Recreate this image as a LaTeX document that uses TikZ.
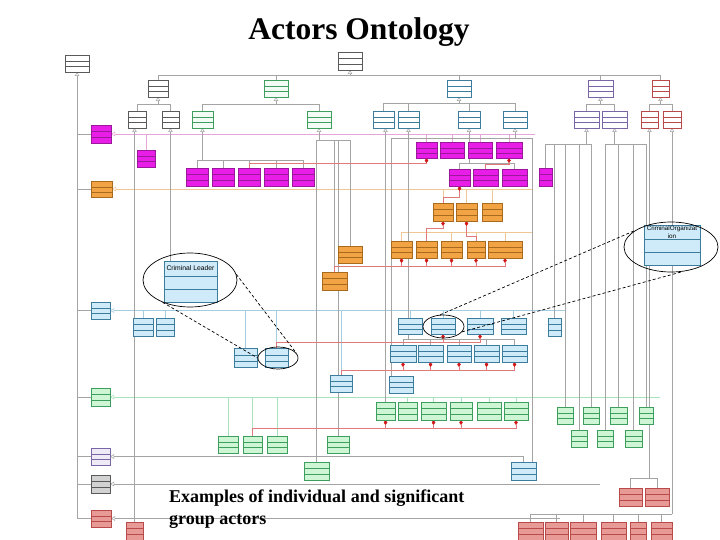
\documentclass[tikz,border=0pt]{standalone}
\usepackage{fontspec}
\setmainfont{Liberation Serif}
\setsansfont{Liberation Sans}
\usetikzlibrary{arrows.meta,calc,shapes.geometric}
\pgfdeclarelayer{bg}
\pgfsetlayers{bg,main}
\definecolor{magF}{HTML}{E81EE8}
\definecolor{magD}{HTML}{9A189A}
\definecolor{orgF}{HTML}{F2A444}
\definecolor{orgD}{HTML}{A86A1E}
\definecolor{bluF}{HTML}{CFEAF8}
\definecolor{bluD}{HTML}{3C7C9C}
\definecolor{grnF}{HTML}{CFF6D4}
\definecolor{grnW}{HTML}{F2FCF4}
\definecolor{grnD}{HTML}{3E9E5E}
\definecolor{purD}{HTML}{7A66A6}
\definecolor{lavF}{HTML}{EEEAF6}
\definecolor{gryF}{HTML}{D2D2D2}
\definecolor{boxG}{HTML}{5A5A5A}
\definecolor{redF}{HTML}{E89A96}
\definecolor{redD}{HTML}{B84A4A}
\definecolor{lnG}{HTML}{A4A4A4}
\definecolor{lnP}{HTML}{E6A6DA}
\definecolor{lnO}{HTML}{F0C694}
\definecolor{lnB}{HTML}{A6CCE2}
\definecolor{lnN}{HTML}{A8E2BC}
\definecolor{redL}{HTML}{E07A7A}
\definecolor{redA}{HTML}{D01818}
\newcommand{\cls}[6]{%
  \node[#1, anchor=north west, minimum width={(#5)-(#3)}, minimum height={(#6)-(#4)}] (#2) at (#3,#4) {};
  \draw[#1,fill=none] ($(#2.north west)!0.37!(#2.south west)$) -- ($(#2.north east)!0.37!(#2.south east)$);
  \draw[#1,fill=none] ($(#2.north west)!0.69!(#2.south west)$) -- ($(#2.north east)!0.69!(#2.south east)$);
}
\tikzset{
  box/.style={rectangle, inner sep=0pt, outer sep=0pt, line width=0.6pt},
  gw/.style={box, draw=boxG, fill=white},
  gnw/.style={box, draw=grnD, fill=grnW},
  bw/.style={box, draw=bluD, fill=white},
  pw/.style={box, draw=purD, fill=white},
  rw/.style={box, draw=redD, fill=white},
  mg/.style={box, draw=magD, fill=magF},
  og/.style={box, draw=orgD, fill=orgF},
  bl/.style={box, draw=bluD, fill=bluF},
  gn/.style={box, draw=grnD, fill=grnF},
  lv/.style={box, draw=purD, fill=lavF},
  gy/.style={box, draw=boxG, fill=gryF},
  rf/.style={box, draw=redD, fill=redF},
  gl/.style={draw=lnG, line width=0.5pt},
  gen/.style={gl, -{Triangle[open, length=4pt, width=4.5pt]}},
  comp/.style={draw=redL, line width=0.5pt, {Diamond[color=redA, fill=redA, length=5pt, width=3.5pt]}-},
  hl/.style={draw=black, line width=0.7pt},
  dsh/.style={draw=black, line width=0.7pt, dash pattern=on 3pt off 2.2pt},
  boxtext/.style={font=\sffamily\fontsize{6.8}{8}\selectfont, inner sep=0pt, align=center}
}
\begin{document}
\begin{tikzpicture}[x=1pt,y=-1pt]
\useasboundingbox (0,0) rectangle (720,540);

% ---------- classes ----------
\cls{gw}{per}{65}{55}{89}{72}
\cls{gw}{act}{338}{52}{362}{70}
\cls{gw}{ae}{148}{80}{168}{97}
\cls{gw}{g1}{128}{111}{146}{128}
\cls{gw}{g2}{162}{111}{179}{128}
\cls{gnw}{gr0}{264}{80}{288}{97}
\cls{gnw}{gr1}{192}{111}{213}{128}
\cls{gnw}{gr2}{307}{111}{331}{128}
\cls{bw}{bo0}{447}{80}{471}{97}
\foreach \n/\a/\b in {1/373/394,2/398/419,3/458/480,4/503/527}{\cls{bw}{bo\n}{\a}{111}{\b}{128}}
\cls{pw}{pu0}{588}{80}{613}{97}
\cls{pw}{pu1}{574}{111}{599}{128}
\cls{pw}{pu2}{602}{111}{627}{128}
\cls{rw}{rd0}{652}{80}{669}{97}
\cls{rw}{rd1}{641}{111}{658}{128}
\cls{rw}{rd2}{663}{111}{681}{128}
% magenta
\cls{mg}{lm}{91}{125}{111}{143}
\cls{mg}{ms}{137}{150}{155}{167}
\foreach \n/\a/\b in {1/186/208,2/212/234,3/238/260,4/264/288,5/292/314}{\cls{mg}{mA\n}{\a}{168}{\b}{186}}
\foreach \n/\a/\b in {1/416/437,2/440/464,3/468/492,4/496/522}{\cls{mg}{mB\n}{\a}{142}{\b}{158}}
\foreach \n/\a/\b in {1/449/470,2/473/498,3/502/527}{\cls{mg}{mC\n}{\a}{169}{\b}{186}}
\cls{mg}{mD}{539}{168}{552}{186}
% orange
\cls{og}{lo}{91}{181}{112}{197}
\foreach \n/\a/\b in {1/433/453,2/456/477,3/482/502}{\cls{og}{oA\n}{\a}{203}{\b}{221}}
\foreach \n/\a/\b in {1/391/412,2/416/437,3/441/462,4/467/485,5/488/522}{\cls{og}{oB\n}{\a}{241}{\b}{258}}
\cls{og}{oM}{338}{246}{362}{263}
\cls{og}{oE}{322}{272}{347}{290}
% blue
\cls{bl}{lb}{91}{302}{110}{319}
\cls{bl}{bL1}{133}{318}{153}{336}
\cls{bl}{bL2}{156}{318}{174}{336}
\foreach \n/\a/\b in {1/398/422,2/431/455,3/467/493,4/501/526}{\cls{bl}{bA\n}{\a}{318}{\b}{334}}
\cls{bl}{bS}{548}{318}{561}{336}
\cls{bl}{bM1}{234}{348}{257}{367}
\cls{bl}{bM2}{265}{348}{288}{367}
\foreach \n/\a/\b in {1/390/416,2/418/443,3/447/471,4/474/499,5/502/527}{\cls{bl}{bB\n}{\a}{345}{\b}{362}}
\cls{bl}{bE}{330}{375}{352}{392}
\cls{bl}{bF}{389}{376}{413}{393}
\cls{bl}{bG}{511}{462}{536}{480}
\cls{bl}{crl}{164}{261}{217}{302}
\cls{bl}{cro}{644}{225}{700}{265}
% green
\cls{gn}{lg}{91}{388}{110}{406}
\foreach \n/\a/\b in {1/218/238,2/243/262,3/267/287}{\cls{gn}{gL\n}{\a}{436}{\b}{453}}
\foreach \n/\a/\b in {1/376/395,2/398/417,3/421/446,4/450/472,5/477/501,6/504/528}{\cls{gn}{gA\n}{\a}{402}{\b}{420}}
\cls{gn}{gC}{327}{436}{349}{453}
\cls{gn}{gD}{304}{462}{329}{480}
\foreach \n/\a/\b in {1/557/573,2/583/599,3/610/627,4/639/653}{\cls{gn}{gR\n}{\a}{407}{\b}{424}}
\foreach \n/\a/\b in {1/571/587,2/597/613,3/625/642}{\cls{gn}{gS\n}{\a}{430}{\b}{447}}
% lavender, grey, red
\cls{lv}{ll}{91}{448}{110}{465}
\cls{gy}{lgy}{91}{475}{110}{493}
\cls{rf}{lr}{91}{510}{111}{527}
\cls{rf}{rB}{126}{522}{143}{540}
\cls{rf}{rE1}{619}{488}{642}{506}
\cls{rf}{rE2}{645}{488}{669}{506}
\foreach \n/\a/\b in {1/518/543,2/545/568,3/570/596,4/601/626,5/630/646,6/651/672}{\cls{rf}{rZ\n}{\a}{522}{\b}{540}}

\node[boxtext] (crlT) at ($(crl.north)+(0,7.5)$) {Criminal Leader};
\node[boxtext, font=\sffamily\fontsize{6.3}{7.6}\selectfont] (croT) at ($(cro.north)+(0,7.5)$) {CriminalOrganizat\\ion};

% ---------- connectors ----------
\begin{pgfonlayer}{bg}
\fill[white] (0,0) rectangle (720,540);
\coordinate (j0) at (350,75);
\draw[gen] (j0) -- (act.south);
\foreach \c in {ae,gr0,bo0,pu0,rd0}{\draw[gl] (\c.north) |- (j0);}
\coordinate (j1) at (158,104);
\draw[gen] (j1) -- (ae.south);
\foreach \c in {g1,g2}{\draw[gl] (\c.north) |- (j1);}
\coordinate (j2) at (276,104);
\draw[gen] (j2) -- (gr0.south);
\foreach \c in {gr1,gr2}{\draw[gl] (\c.north) |- (j2);}
\coordinate (j3) at (459,103);
\draw[gen] (j3) -- (bo0.south);
\foreach \c in {bo1,bo2,bo3,bo4}{\draw[gl] (\c.north) |- (j3);}
\coordinate (j4) at (600.5,104);
\draw[gen] (j4) -- (pu0.south);
\foreach \c in {pu1,pu2}{\draw[gl] (\c.north) |- (j4);}
\coordinate (j5) at (660.5,104);
\draw[gen] (j5) -- (rd0.south);
\foreach \c in {rd1,rd2}{\draw[gl] (\c.north) |- (j5);}
% Person column
\draw[gen] (lr.west -| per.south) -- (per.south);
\foreach \c in {lm,lo,lb,lg,ll,lgy,lr}{\draw[gl] (\c.west) -- (\c.west -| per.south);}
% coloured long lines
\coordinate (eM) at (535,0);
\draw[gen, draw=lnP] (lm.east -| eM) -- (lm.east);
\foreach \n in {1,...,4}{\draw[draw=lnP, line width=0.5pt] (mB\n.north) -- (mB\n.north |- lm.east);}
\draw[draw=lnP, line width=0.5pt] (ms.north) -- (ms.north |- lm.east);
\coordinate (eO) at (532,0);
\draw[gen, draw=lnO] (lo.east -| eO) -- (lo.east);
\foreach \n in {1,2,3}{\draw[draw=lnO, line width=0.5pt] (oA\n.north) -- (oA\n.north |- lo.east);}
\coordinate (oj) at (532,232);
\foreach \n in {1,...,5}{\draw[draw=lnO, line width=0.5pt] (oB\n.north) |- (oj);}
\draw[draw=lnO, line width=0.5pt] (oj) -- (oj |- lo.east);
\coordinate (eB) at (565,0);
\draw[gen, draw=lnB] (lb.east -| eB) -- (lb.east);
\foreach \c in {bA1,bA2,bA3,bA4,bL1,bL2,bM1,bM2,bE}{\draw[draw=lnB, line width=0.5pt] (\c.north) -- (\c.north |- lb.east);}
\coordinate (eG) at (660,0);
\draw[gen, draw=lnN] (lg.east -| eG) -- (lg.east);
\foreach \c in {gA2,gA3,gA4,gA5,gA6,gL1,gL2,gL3}{\draw[draw=lnN, line width=0.5pt] (\c.north) -- (\c.north |- lg.east);}
\draw[gen] (bG.north) |- (ll.east);
\coordinate (eY) at (600,0);
\draw[gen] (lgy.east -| eY) -- (lgy.east);
\coordinate (eR) at (560,0);
\draw[gen] (lr.east -| eR) -- (lr.east);
% trees to lower classes
\draw[gen] (rB.north) -- (rB.north |- g1.south);
\draw[gen] (crl.north -| g2.south) -- (g2.south);
\coordinate (j7) at (202.5,160);
\draw[gen] (j7) -- (gr1.south);
\foreach \n in {1,...,5}{\draw[gl] (mA\n.north) |- (j7);}
\coordinate (j8) at (319,140);
\draw[gen] (j8) -- (gr2.south);
\foreach \c in {oM,oE,gC,gD}{\draw[gl] (\c.north) |- (j8);}
\draw[gen] (gA1.north) -- (gA1.north |- bo1.south);
\coordinate (j10) at (408.5,339);
\draw[gen] (j10) -- (bo2.south);
\foreach \n in {1,...,5}{\draw[gl] (bB\n.north) |- (j10);}
\coordinate (j11) at (469,163);
\draw[gen] (j11) -- (bo3.south);
\foreach \n in {1,2,3}{\draw[gl] (mC\n.north) |- (j11);}
\coordinate (j12) at (515,138);
\draw[gen] (j12) -- (bo4.south);
\draw[gl] ($(bG.north east)+(-4,0)$) |- (j12);
\draw[gl] ($(bF.north west)+(2,0)$) |- (j12);
\coordinate (p1) at (586.5,144);
\draw[gen] (p1) -- (pu1.south);
\foreach \c in {mD,bS,gR1,gS1,gR2}{\draw[gl] (\c.north) |- (p1);}
\coordinate (p2) at (614.5,144);
\draw[gen] (p2) -- (pu2.south);
\foreach \c in {gS2,gR3,gS3,gR4}{\draw[gl] (\c.north) |- (p2);}
\coordinate (k1) at (649.5,478);
\draw[gen] (k1) -- (rd1.south);
\foreach \c in {rE1,rE2}{\draw[gl] (\c.north) |- (k1);}
\coordinate (k2) at (672,514);
\draw[gen] (k2) -- (rd2.south);
\foreach \n in {1,...,6}{\draw[gl] (rZ\n.north) |- (k2);}
% compositions
\draw[comp] (mB1.south) |- ($(mA3.north)+(0,-5)$) -- (mA3.north);
\draw[comp] (mB4.south) |- ($(mC2.north)+(0,-5)$) -- (mC2.north);
\draw[comp] (mC1.south) |- ($(oA1.north)+(0,-6)$) -- (oA1.north);
\draw[comp] (oA1.south) |- ($(oB2.north)+(0,-13)$) -- (oB2.north);
\draw[comp] (oA2.south) |- ($(oB4.north)+(0,-5)$) -- (oB4.north);
\foreach \n in {1,...,5}{\draw[comp] (oB\n.south) |- ($(oE.north)+(0,-6)$) -- (oE.north);}
\foreach \n in {2,3}{\draw[comp] (bA\n.south) |- ($(bM2.north)+(0,-6)$) -- (bM2.north);}
\foreach \n in {1,...,5}{\draw[comp] (bB\n.south) |- ($(bE.north)+(0,-5)$) -- (bE.north);}
\foreach \n in {1,3,4,6}{\draw[comp] (gA\n.south) |- ($(gL2.north)+(0,-8)$) -- (gL2.north);}
\end{pgfonlayer}

% ---------- highlights ----------
\node[ellipse, hl, minimum width=94pt, minimum height=54pt, inner sep=0pt] (eCL) at (190,280) {};
\node[ellipse, hl, minimum width=40pt, minimum height=22pt, inner sep=0pt] (eSL) at (278,358) {};
\node[ellipse, hl, minimum width=94pt, minimum height=50pt, inner sep=0pt] (eCO) at (671,247) {};
\node[ellipse, hl, minimum width=41pt, minimum height=23pt, inner sep=0pt] (eSO) at (443.5,326.5) {};
\draw[dsh] (eCL.219) -- (eSL.180);
\draw[dsh] (eCL.7) -- (eSL.15);
\draw[dsh] (eSO.106) -- (eCO.155);
\draw[dsh] (eSO.344) -- (eCO.296);

% ---------- texts ----------
\node[anchor=base, inner sep=0pt, font=\bfseries\fontsize{31.5}{34}\selectfont] (title) at (359,40) {Actors Ontology};
\node[anchor=north west, inner sep=0pt, align=left, font=\bfseries\fontsize{18}{22}\selectfont] (cap) at (169,490) {Examples of individual and significant\\group actors};
\end{tikzpicture}
\end{document}
